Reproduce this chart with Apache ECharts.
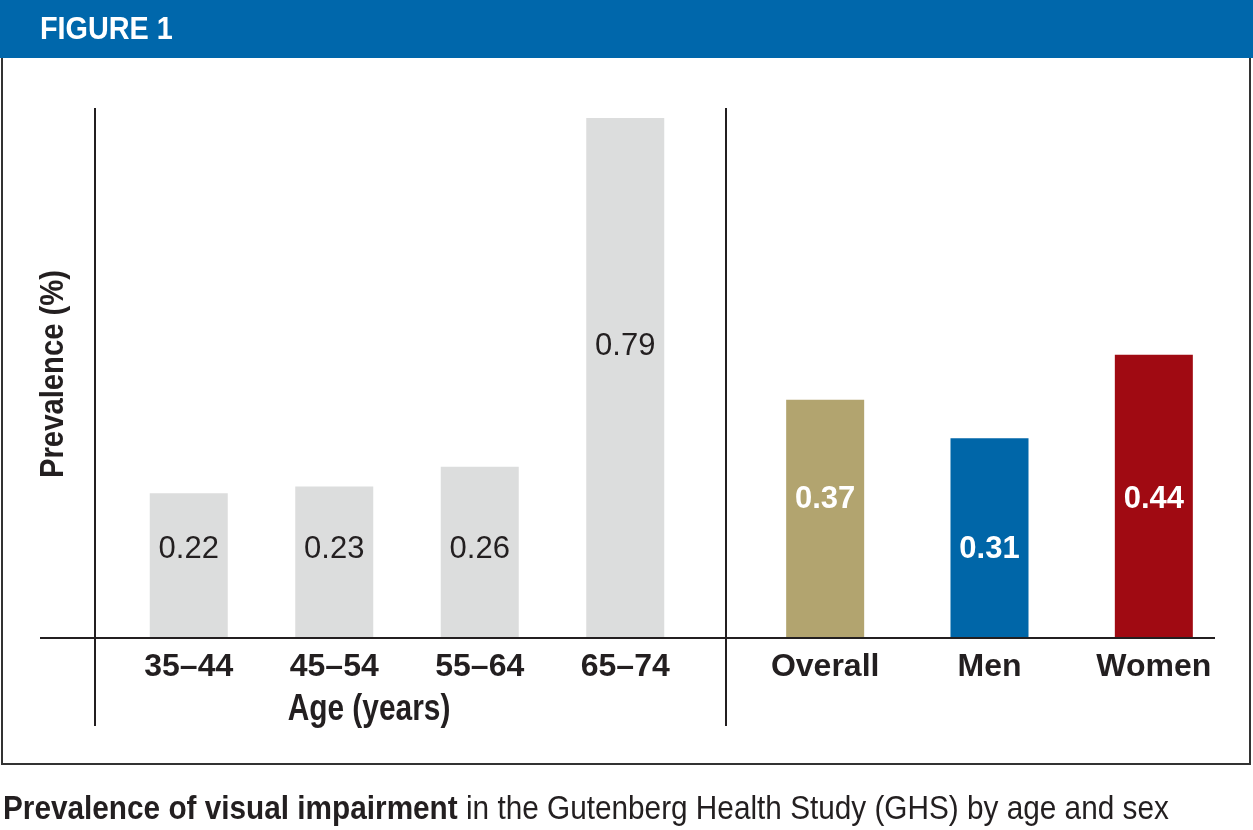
<!DOCTYPE html>
<html>
<head>
<meta charset="utf-8">
<script src="https://cdn.jsdelivr.net/npm/echarts@6/dist/echarts.min.js"></script>
<style>
html,body{margin:0;padding:0;background:#fff;}
#chart{width:1253px;height:830px;}
</style>
</head>
<body>
<div id="chart"></div>
<script>
// ---- data ----
const figureTitle = 'FIGURE 1';
const yAxisTitle = 'Prevalence (%)';
const ageAxisTitle = 'Age (years)';
const ageCategories = ['35–44', '45–54', '55–64', '65–74'];
const ageValues = [0.22, 0.23, 0.26, 0.79];
const groupCategories = ['Overall', 'Men', 'Women'];
const groupValues = [0.37, 0.31, 0.44];
const captionBold = 'Prevalence of visual impairment';
const captionRest = ' in the Gutenberg Health Study (GHS) by age and sex';

// ---- styles ----
const FONT = '"Liberation Sans Narrow", "Arial Narrow", "Liberation Sans", Arial, sans-serif';
const INK = '#231f20';
const groupColors = ['#b2a46f', '#0066a8', '#a00a12'];
const ageLabelLift = [73, 73, 73, 276];
const groupLabelLift = [123, 73, 123];

const chart = echarts.init(document.getElementById('chart'), null, {renderer: 'canvas'});

const catLabel = {
  interval: 0, color: INK, fontFamily: FONT, fontWeight: 'bold', fontSize: 32, lineHeight: 32, margin: 13
};
const hiddenY = {
  axisLine: {show: false}, axisTick: {show: false}, axisLabel: {show: false}, splitLine: {show: false}
};

const option = {
  animation: false,
  backgroundColor: '#fff',
  grid: [
    {left: 116, width: 582, top: 108, height: 530},
    {left: 743, width: 493, top: 108, height: 530}
  ],
  xAxis: [
    {gridIndex: 0, type: 'category', data: ageCategories,
     axisLine: {show: false}, axisTick: {show: false}, axisLabel: catLabel},
    {gridIndex: 1, type: 'category', data: groupCategories,
     axisLine: {show: false}, axisTick: {show: false}, axisLabel: catLabel}
  ],
  yAxis: [
    Object.assign({gridIndex: 0, type: 'value', min: 0, max: 0.805}, hiddenY),
    Object.assign({gridIndex: 1, type: 'value', min: 0, max: 0.823}, hiddenY)
  ],
  series: [
    {
      type: 'bar', xAxisIndex: 0, yAxisIndex: 0, barWidth: 78,
      itemStyle: {color: '#dcdddd'},
      data: ageValues.map((v, i) => ({
        value: v,
        label: {show: true, position: 'insideBottom', distance: ageLabelLift[i],
          color: INK, fontFamily: FONT, fontSize: 31, lineHeight: 31,
          formatter: (p) => p.value.toFixed(2)}
      }))
    },
    {
      type: 'bar', xAxisIndex: 1, yAxisIndex: 1, barWidth: 78,
      data: groupValues.map((v, i) => ({
        value: v,
        itemStyle: {color: groupColors[i]},
        label: {show: true, position: 'insideBottom', distance: groupLabelLift[i],
          color: '#fff', fontFamily: FONT, fontWeight: 'bold', fontSize: 31, lineHeight: 31,
          formatter: (p) => p.value.toFixed(2)}
      }))
    }
  ],
  graphic: [
    // header band
    {type: 'rect', x: 0, y: 0, shape: {width: 1253, height: 58}, style: {fill: '#0067ab'}, z: 10},
    {type: 'text', x: 40, y: 30, scaleX: 0.9, z: 11,
     style: {text: figureTitle, fill: '#fff', font: 'bold 32px ' + FONT, align: 'left', verticalAlign: 'middle'}},
    // frame
    {type: 'polyline', z: 10, shape: {points: [[2, 58], [2, 764], [1250, 764], [1250, 58]]},
     style: {stroke: '#333', lineWidth: 2, fill: null}},
    // axis lines
    {type: 'line', z: 10, shape: {x1: 95, y1: 108, x2: 95, y2: 726}, style: {stroke: INK, lineWidth: 2}},
    {type: 'line', z: 10, shape: {x1: 726, y1: 108, x2: 726, y2: 726}, style: {stroke: INK, lineWidth: 2}},
    {type: 'line', z: 10, shape: {x1: 40, y1: 638, x2: 1215, y2: 638}, style: {stroke: INK, lineWidth: 2}},
    // y axis title
    {type: 'text', x: 54, y: 374, rotation: Math.PI / 2, scaleX: 0.86, z: 11,
     style: {text: yAxisTitle, fill: INK, font: 'bold 34px ' + FONT, align: 'center', verticalAlign: 'middle'}},
    // age axis title
    {type: 'text', x: 369, y: 710, scaleX: 0.83, z: 11,
     style: {text: ageAxisTitle, fill: INK, font: 'bold 36px ' + FONT, align: 'center', verticalAlign: 'middle'}},
    // caption
    {type: 'text', x: 3, y: 810, scaleX: 0.875, z: 11,
     style: {
       text: '{b|' + captionBold + '}{r|' + captionRest + '}',
       align: 'left', verticalAlign: 'middle',
       rich: {
         b: {fontFamily: FONT, fontWeight: 'bold', fontSize: 34, fill: INK},
         r: {fontFamily: FONT, fontSize: 34, fill: INK}
       }
     }}
  ]
};
chart.setOption(option);
</script>
</body>
</html>
